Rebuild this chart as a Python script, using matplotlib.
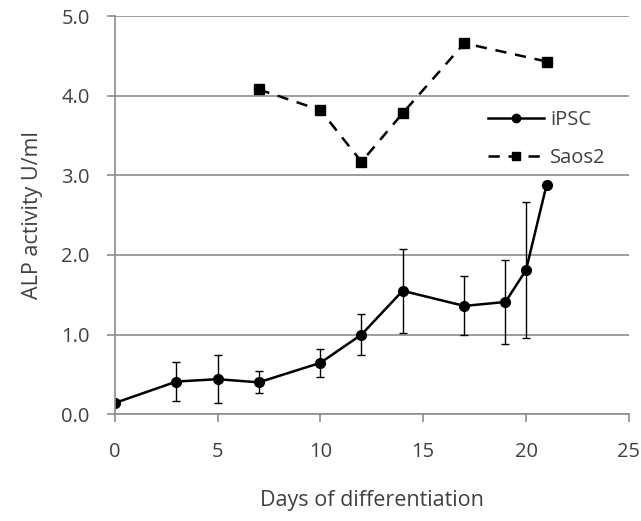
import matplotlib.pyplot as plt
from matplotlib.lines import Line2D
import numpy as np

plt.rcParams['font.family'] = ['Open Sans', 'DejaVu Sans']

# iPSC series (mean, symmetric error)
ipsc_days = [0, 3, 5, 7, 10, 12, 14, 17, 19, 20, 21]
ipsc_alp = [0.14, 0.41, 0.44, 0.40, 0.645, 1.0, 1.55, 1.36, 1.41, 1.81, 2.88]
ipsc_err = [0, 0.24, 0.30, 0.14, 0.18, 0.26, 0.53, 0.37, 0.53, 0.85, 0]

# Saos2 series
saos_days = [7, 10, 12, 14, 17, 21]
saos_alp = [4.08, 3.82, 3.17, 3.78, 4.66, 4.43]

grey = '#8c8c8c'
txt = '#404040'
dash = (0, (4.5, 3.5))

fig = plt.figure(figsize=(6.41, 5.21), dpi=100)
ax = fig.add_axes([0.179, 0.205, 0.802, 0.764])

ax.errorbar(ipsc_days, ipsc_alp, yerr=ipsc_err, color='black', lw=1.8,
            marker='o', ms=7, ecolor='black', elinewidth=1, capsize=3,
            capthick=1)
ax.plot(saos_days, saos_alp, color='black', lw=1.8, ls=dash,
        marker='s', ms=7)

ax.set_xlim(0, 25)
ax.set_ylim(0, 5)
ax.set_xticks(np.arange(0, 26, 5))
ax.set_yticks(np.arange(0, 5.1, 1))
ax.set_yticklabels([f'{v:.1f}' for v in np.arange(0, 5.1, 1)])
ax.yaxis.grid(True, color=grey, lw=1.2)
ax.set_axisbelow(True)
for s in ['top', 'right']:
    ax.spines[s].set_visible(False)
for s in ['left', 'bottom']:
    ax.spines[s].set_color(grey)
    ax.spines[s].set_linewidth(1.2)
ax.tick_params(axis='both', colors=grey, length=6, width=1.2, labelsize=14.5,
               labelcolor=txt)
ax.tick_params(axis='x', pad=14)
ax.tick_params(axis='y', pad=12)

ax.set_xlabel('Days of differentiation', fontsize=15.5, color=txt, labelpad=20)
ax.set_ylabel('ALP activity U/ml', fontsize=15.5, color=txt, labelpad=13)

handles = [Line2D([], [], color='black', lw=1.8, marker='o', ms=6),
           Line2D([], [], color='black', lw=1.8, ls=dash, marker='s', ms=6)]
leg = ax.legend(handles, ['iPSC', 'Saos2'], loc='upper left',
                bbox_to_anchor=(0.71, 0.785), frameon=False,
                fontsize=14.5, handlelength=2.8, labelspacing=0.9,
                handletextpad=0.3, borderaxespad=0)
for t in leg.get_texts():
    t.set_color(txt)

fig.savefig('out.png', dpi=100)
